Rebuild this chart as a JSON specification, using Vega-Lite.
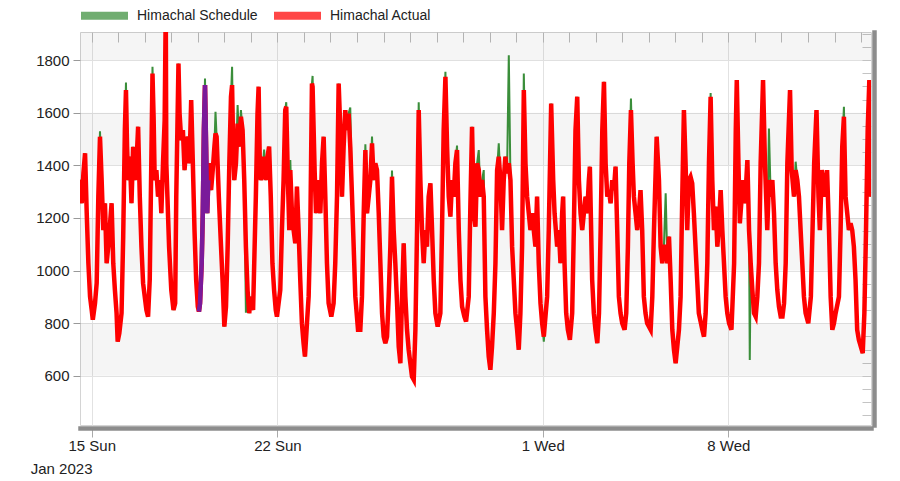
{
"$schema": "https://vega.github.io/schema/vega-lite/v6.json",
"width": 791, "height": 393,
"autosize": {"type": "none"},
"padding": {"left": 80, "top": 32, "right": 29, "bottom": 56},
"background": "white",
"config": {
  "font": "Liberation Sans",
  "view": {"stroke": "#d4d4d4", "strokeWidth": 1},
  "axis": {"labelFont": "Liberation Sans", "labelFontSize": 15, "labelColor": "#222", "titleFont": "Liberation Sans"},
  "legend": {"labelFont": "Liberation Sans"}
},
"data": {"values": [
{"t":"2023-01-14T13:30","a":1345,"s":1345},{"t":"2023-01-14T15:00","a":1256,"s":1256},{"t":"2023-01-14T16:30","a":1370,"s":1370},{"t":"2023-01-14T18:00","a":1446,"s":1446},{"t":"2023-01-14T19:30","a":1218,"s":1218},{"t":"2023-01-14T21:00","a":1028,"s":1028},{"t":"2023-01-14T22:30","a":901,"s":901},
{"t":"2023-01-15T00:00","a":850,"s":850},{"t":"2023-01-15T01:00","a":813,"s":813},{"t":"2023-01-15T03:00","a":876,"s":876},{"t":"2023-01-15T04:30","a":952,"s":952},{"t":"2023-01-15T06:00","a":1281,"s":1281},{"t":"2023-01-15T07:30","a":1509,"s":1530},{"t":"2023-01-15T09:00","a":1344,"s":1344},{"t":"2023-01-15T10:30","a":1154,"s":1154},{"t":"2023-01-15T12:00","a":1256,"s":1256},{"t":"2023-01-15T13:30","a":1028,"s":1028},{"t":"2023-01-15T15:00","a":1091,"s":1091},{"t":"2023-01-15T18:00","a":1256,"s":1256},{"t":"2023-01-15T19:30","a":1028,"s":1028},{"t":"2023-01-15T21:00","a":926,"s":926},{"t":"2023-01-15T22:30","a":838,"s":838},{"t":"2023-01-15T23:30","a":730,"s":730},
{"t":"2023-01-16T01:00","a":762,"s":762},{"t":"2023-01-16T03:00","a":838,"s":838},{"t":"2023-01-16T04:30","a":1129,"s":1129},{"t":"2023-01-16T06:00","a":1534,"s":1534},{"t":"2023-01-16T07:00","a":1686,"s":1715},{"t":"2023-01-16T08:00","a":1471,"s":1471},{"t":"2023-01-16T09:00","a":1344,"s":1344},{"t":"2023-01-16T10:30","a":1433,"s":1433},{"t":"2023-01-16T12:00","a":1256,"s":1256},{"t":"2023-01-16T13:30","a":1471,"s":1471},{"t":"2023-01-16T15:00","a":1344,"s":1344},{"t":"2023-01-16T16:30","a":1408,"s":1408},{"t":"2023-01-16T18:00","a":1547,"s":1547},{"t":"2023-01-16T19:30","a":1281,"s":1281},{"t":"2023-01-16T21:00","a":1091,"s":1091},{"t":"2023-01-16T22:30","a":952,"s":952},
{"t":"2023-01-17T00:00","a":901,"s":901},{"t":"2023-01-17T01:30","a":850,"s":850},{"t":"2023-01-17T03:00","a":825,"s":825},{"t":"2023-01-17T04:30","a":965,"s":965},{"t":"2023-01-17T05:30","a":1281,"s":1281},{"t":"2023-01-17T07:00","a":1749,"s":1775},{"t":"2023-01-17T08:00","a":1585,"s":1585},{"t":"2023-01-17T09:00","a":1344,"s":1344},{"t":"2023-01-17T10:30","a":1382,"s":1382},{"t":"2023-01-17T12:00","a":1281,"s":1281},{"t":"2023-01-17T13:30","a":1344,"s":1344},{"t":"2023-01-17T15:00","a":1218,"s":1218},{"t":"2023-01-17T16:30","a":1408,"s":1408},{"t":"2023-01-17T18:00","a":1572,"s":1572},{"t":"2023-01-17T19:00","a":2000,"s":1480},{"t":"2023-01-17T19:30","a":1408,"s":1408},{"t":"2023-01-17T20:30","a":1281,"s":1281},{"t":"2023-01-17T22:00","a":1091,"s":1091},
{"t":"2023-01-18T00:00","a":926,"s":926},{"t":"2023-01-18T02:00","a":850,"s":850},{"t":"2023-01-18T03:30","a":876,"s":876},{"t":"2023-01-18T04:30","a":1281,"s":1281},{"t":"2023-01-18T06:30","a":1787,"s":1787},{"t":"2023-01-18T07:30","a":1597,"s":1597},{"t":"2023-01-18T09:00","a":1496,"s":1496},{"t":"2023-01-18T10:30","a":1534,"s":1534},{"t":"2023-01-18T12:00","a":1382,"s":1382},{"t":"2023-01-18T13:30","a":1471,"s":1471},{"t":"2023-01-18T15:00","a":1509,"s":1509},{"t":"2023-01-18T16:30","a":1408,"s":1408},{"t":"2023-01-18T18:00","a":1648,"s":1648},{"t":"2023-01-18T19:30","a":1408,"s":1408},{"t":"2023-01-18T21:00","a":1154,"s":1154},{"t":"2023-01-18T22:30","a":965,"s":965},
{"t":"2023-01-19T00:00","a":863,"s":863},{"t":"2023-01-19T01:00","a":844,"s":844,"p":844},{"t":"2023-01-19T02:00","a":876,"s":876,"p":876},{"t":"2023-01-19T03:30","a":1028,"s":1028,"p":1028},{"t":"2023-01-19T04:30","a":1218,"s":1218,"p":1218},{"t":"2023-01-19T05:30","a":1534,"s":1534,"p":1534},{"t":"2023-01-19T06:30","a":1705,"s":1730,"p":1705},{"t":"2023-01-19T07:30","a":1471,"s":1471,"p":1471},{"t":"2023-01-19T08:30","a":1218,"s":1218,"p":1218},{"t":"2023-01-19T09:30","a":1344,"s":1344,"p":1344},{"t":"2023-01-19T10:30","a":1408,"s":1408},{"t":"2023-01-19T12:00","a":1306,"s":1306},{"t":"2023-01-19T13:30","a":1382,"s":1382},{"t":"2023-01-19T15:00","a":1471,"s":1471},{"t":"2023-01-19T16:00","a":1521,"s":1604},{"t":"2023-01-19T17:00","a":1509,"s":1509},{"t":"2023-01-19T19:00","a":1281,"s":1281},{"t":"2023-01-19T21:00","a":1091,"s":1091},{"t":"2023-01-19T22:30","a":952,"s":952},
{"t":"2023-01-20T00:00","a":787,"s":787},{"t":"2023-01-20T01:30","a":863,"s":863},{"t":"2023-01-20T03:00","a":1091,"s":1091},{"t":"2023-01-20T04:30","a":1408,"s":1408},{"t":"2023-01-20T06:00","a":1661,"s":1661},{"t":"2023-01-20T07:00","a":1705,"s":1775},{"t":"2023-01-20T08:00","a":1471,"s":1471},{"t":"2023-01-20T09:00","a":1344,"s":1344},{"t":"2023-01-20T10:30","a":1408,"s":1408},{"t":"2023-01-20T12:00","a":1559,"s":1629},{"t":"2023-01-20T13:30","a":1471,"s":1471},{"t":"2023-01-20T15:00","a":1585,"s":1610},{"t":"2023-01-20T16:30","a":1534,"s":1534},{"t":"2023-01-20T18:00","a":1344,"s":1344},{"t":"2023-01-20T19:30","a":1091,"s":840},{"t":"2023-01-20T21:00","a":926,"s":926},{"t":"2023-01-20T22:30","a":838,"s":838},
{"t":"2023-01-21T00:00","a":901,"s":901},{"t":"2023-01-21T02:00","a":850,"s":850},{"t":"2023-01-21T04:30","a":1281,"s":1281},{"t":"2023-01-21T06:00","a":1597,"s":1597},{"t":"2023-01-21T07:00","a":1699,"s":1699},{"t":"2023-01-21T08:00","a":1433,"s":1433},{"t":"2023-01-21T09:00","a":1344,"s":1344},{"t":"2023-01-21T10:30","a":1382,"s":1382},{"t":"2023-01-21T12:00","a":1433,"s":1460},{"t":"2023-01-21T13:30","a":1344,"s":1344},{"t":"2023-01-21T15:00","a":1433,"s":1433},{"t":"2023-01-21T16:30","a":1471,"s":1471},{"t":"2023-01-21T18:00","a":1281,"s":1281},{"t":"2023-01-21T19:30","a":1028,"s":1028},{"t":"2023-01-21T21:00","a":926,"s":926},{"t":"2023-01-21T22:30","a":850,"s":850},{"t":"2023-01-21T23:35","a":825,"s":825},
{"t":"2023-01-22T01:05","a":876,"s":876},{"t":"2023-01-22T02:35","a":926,"s":926},{"t":"2023-01-22T04:05","a":1154,"s":1154},{"t":"2023-01-22T05:35","a":1344,"s":1344},{"t":"2023-01-22T07:05","a":1610,"s":1610},{"t":"2023-01-22T08:00","a":1623,"s":1640},{"t":"2023-01-22T09:30","a":1344,"s":1344},{"t":"2023-01-22T10:45","a":1154,"s":1154},{"t":"2023-01-22T11:40","a":1382,"s":1420},{"t":"2023-01-22T13:10","a":1218,"s":1218},{"t":"2023-01-22T14:40","a":1154,"s":1154},{"t":"2023-01-22T16:10","a":1104,"s":1104},{"t":"2023-01-22T17:40","a":1319,"s":1319},{"t":"2023-01-22T19:10","a":1154,"s":1154},{"t":"2023-01-22T20:40","a":965,"s":965},{"t":"2023-01-22T22:10","a":800,"s":800},{"t":"2023-01-22T23:40","a":724,"s":724},
{"t":"2023-01-23T00:55","a":673,"s":673},{"t":"2023-01-23T02:45","a":800,"s":800},{"t":"2023-01-23T04:15","a":901,"s":901},{"t":"2023-01-23T05:45","a":1154,"s":1154},{"t":"2023-01-23T07:15","a":1711,"s":1711},{"t":"2023-01-23T07:50","a":1699,"s":1740},{"t":"2023-01-23T09:40","a":1382,"s":1382},{"t":"2023-01-23T10:55","a":1218,"s":1218},{"t":"2023-01-23T11:50","a":1344,"s":1344},{"t":"2023-01-23T13:20","a":1281,"s":1281},{"t":"2023-01-23T14:50","a":1218,"s":1218},{"t":"2023-01-23T16:20","a":1408,"s":1408},{"t":"2023-01-23T17:50","a":1509,"s":1509},{"t":"2023-01-23T19:20","a":1281,"s":1281},{"t":"2023-01-23T20:50","a":1028,"s":1028},{"t":"2023-01-23T22:20","a":876,"s":876},
{"t":"2023-01-24T00:45","a":825,"s":825},{"t":"2023-01-24T02:50","a":876,"s":876},{"t":"2023-01-24T04:20","a":1028,"s":1028},{"t":"2023-01-24T05:55","a":1281,"s":1281},{"t":"2023-01-24T07:25","a":1711,"s":1711},{"t":"2023-01-24T08:55","a":1534,"s":1534},{"t":"2023-01-24T10:25","a":1281,"s":1281},{"t":"2023-01-24T11:55","a":1471,"s":1471},{"t":"2023-01-24T13:25","a":1610,"s":1610},{"t":"2023-01-24T14:55","a":1534,"s":1534},{"t":"2023-01-24T16:25","a":1597,"s":1597},{"t":"2023-01-24T17:55","a":1471,"s":1620},{"t":"2023-01-24T19:30","a":1281,"s":1281},{"t":"2023-01-24T21:00","a":1091,"s":1091},{"t":"2023-01-24T22:30","a":901,"s":901},
{"t":"2023-01-25T00:55","a":775,"s":775},{"t":"2023-01-25T03:00","a":775,"s":775},{"t":"2023-01-25T04:30","a":901,"s":901},{"t":"2023-01-25T06:05","a":1218,"s":1218},{"t":"2023-01-25T07:35","a":1458,"s":1480},{"t":"2023-01-25T09:05","a":1218,"s":1218},{"t":"2023-01-25T10:35","a":1281,"s":1281},{"t":"2023-01-25T12:05","a":1344,"s":1344},{"t":"2023-01-25T13:35","a":1484,"s":1510},{"t":"2023-01-25T15:05","a":1344,"s":1344},{"t":"2023-01-25T16:35","a":1408,"s":1408},{"t":"2023-01-25T18:05","a":1382,"s":1382},{"t":"2023-01-25T19:40","a":1218,"s":1218},{"t":"2023-01-25T21:10","a":1028,"s":1028},{"t":"2023-01-25T22:40","a":838,"s":838},
{"t":"2023-01-26T00:10","a":749,"s":749},{"t":"2023-01-26T01:40","a":724,"s":724},{"t":"2023-01-26T03:10","a":749,"s":749},{"t":"2023-01-26T04:40","a":901,"s":901},{"t":"2023-01-26T06:10","a":1091,"s":1091},{"t":"2023-01-26T07:40","a":1357,"s":1380},{"t":"2023-01-26T09:10","a":1154,"s":1154},{"t":"2023-01-26T10:40","a":1028,"s":1028},{"t":"2023-01-26T12:15","a":876,"s":876},{"t":"2023-01-26T13:45","a":711,"s":700},{"t":"2023-01-26T15:15","a":648,"s":648},{"t":"2023-01-26T16:45","a":901,"s":901},{"t":"2023-01-26T18:15","a":1104,"s":1104},{"t":"2023-01-26T19:45","a":901,"s":901},{"t":"2023-01-26T21:15","a":775,"s":775},{"t":"2023-01-26T22:45","a":699,"s":699},
{"t":"2023-01-27T00:15","a":648,"s":648},{"t":"2023-01-27T01:45","a":597,"s":597},{"t":"2023-01-27T03:20","a":585,"s":585},{"t":"2023-01-27T04:50","a":775,"s":775},{"t":"2023-01-27T06:20","a":1154,"s":1154},{"t":"2023-01-27T07:50","a":1610,"s":1640},{"t":"2023-01-27T09:20","a":1344,"s":1344},{"t":"2023-01-27T10:50","a":1154,"s":1154},{"t":"2023-01-27T12:20","a":1028,"s":1028},{"t":"2023-01-27T13:50","a":1154,"s":1154},{"t":"2023-01-27T15:20","a":1091,"s":1091},{"t":"2023-01-27T16:50","a":1281,"s":1281},{"t":"2023-01-27T18:25","a":1332,"s":1332},{"t":"2023-01-27T19:55","a":1154,"s":1154},{"t":"2023-01-27T21:25","a":965,"s":965},{"t":"2023-01-27T22:55","a":838,"s":838},
{"t":"2023-01-28T01:00","a":787,"s":787},{"t":"2023-01-28T03:25","a":838,"s":838},{"t":"2023-01-28T04:55","a":1154,"s":1154},{"t":"2023-01-28T06:25","a":1534,"s":1534},{"t":"2023-01-28T08:00","a":1737,"s":1756},{"t":"2023-01-28T09:30","a":1471,"s":1471},{"t":"2023-01-28T11:00","a":1281,"s":1281},{"t":"2023-01-28T12:30","a":1205,"s":1205},{"t":"2023-01-28T14:00","a":1344,"s":1344},{"t":"2023-01-28T15:30","a":1281,"s":1281},{"t":"2023-01-28T17:00","a":1408,"s":1408},{"t":"2023-01-28T18:30","a":1458,"s":1475},{"t":"2023-01-28T20:05","a":1154,"s":1154},{"t":"2023-01-28T21:35","a":965,"s":965},{"t":"2023-01-28T23:05","a":863,"s":863},
{"t":"2023-01-29T01:10","a":825,"s":825},{"t":"2023-01-29T02:40","a":806,"s":806},{"t":"2023-01-29T05:05","a":901,"s":901},{"t":"2023-01-29T06:35","a":1250,"s":1250},{"t":"2023-01-29T08:05","a":1547,"s":1547},{"t":"2023-01-29T09:40","a":1218,"s":1218},{"t":"2023-01-29T11:10","a":1167,"s":1167},{"t":"2023-01-29T12:40","a":1408,"s":1408},{"t":"2023-01-29T14:10","a":1382,"s":1458},{"t":"2023-01-29T15:40","a":1281,"s":1281},{"t":"2023-01-29T17:10","a":1344,"s":1344},{"t":"2023-01-29T18:40","a":1281,"s":1382},{"t":"2023-01-29T20:10","a":901,"s":901},{"t":"2023-01-29T21:40","a":775,"s":775},{"t":"2023-01-29T23:10","a":673,"s":673},
{"t":"2023-01-30T00:40","a":623,"s":623},{"t":"2023-01-30T02:10","a":711,"s":711},{"t":"2023-01-30T03:45","a":838,"s":838},{"t":"2023-01-30T05:15","a":1028,"s":1028},{"t":"2023-01-30T06:45","a":1382,"s":1382},{"t":"2023-01-30T08:15","a":1433,"s":1484},{"t":"2023-01-30T09:45","a":1344,"s":1344},{"t":"2023-01-30T11:15","a":1154,"s":1154},{"t":"2023-01-30T12:45","a":1344,"s":1344},{"t":"2023-01-30T14:15","a":1433,"s":1433},{"t":"2023-01-30T15:45","a":1370,"s":1370},{"t":"2023-01-30T17:20","a":1408,"s":1819},{"t":"2023-01-30T18:50","a":1344,"s":1344},{"t":"2023-01-30T20:20","a":1091,"s":1091},{"t":"2023-01-30T21:50","a":965,"s":965},{"t":"2023-01-30T23:20","a":838,"s":838},
{"t":"2023-01-31T00:50","a":775,"s":775},{"t":"2023-01-31T02:20","a":699,"s":699},{"t":"2023-01-31T03:50","a":838,"s":838},{"t":"2023-01-31T05:20","a":1091,"s":1091},{"t":"2023-01-31T06:55","a":1686,"s":1749},{"t":"2023-01-31T08:25","a":1408,"s":1408},{"t":"2023-01-31T09:55","a":1281,"s":1281},{"t":"2023-01-31T11:25","a":1218,"s":1218},{"t":"2023-01-31T12:55","a":1154,"s":1154},{"t":"2023-01-31T14:25","a":1218,"s":1218},{"t":"2023-01-31T15:55","a":1154,"s":1154},{"t":"2023-01-31T17:25","a":1091,"s":1091},{"t":"2023-01-31T18:55","a":1281,"s":1281},{"t":"2023-01-31T20:25","a":1028,"s":1028},{"t":"2023-01-31T22:00","a":876,"s":876},{"t":"2023-01-31T23:30","a":800,"s":800},
{"t":"2023-02-01T01:00","a":749,"s":730},{"t":"2023-02-01T04:00","a":901,"s":901},{"t":"2023-02-01T05:30","a":1154,"s":1154},{"t":"2023-02-01T07:40","a":1635,"s":1635},{"t":"2023-02-01T09:30","a":1344,"s":1344},{"t":"2023-02-01T10:45","a":1218,"s":1218},{"t":"2023-02-01T11:55","a":1154,"s":1154},{"t":"2023-02-01T13:05","a":1091,"s":1091},{"t":"2023-02-01T14:35","a":1154,"s":1154},{"t":"2023-02-01T16:05","a":1028,"s":1028},{"t":"2023-02-01T17:35","a":1218,"s":1218},{"t":"2023-02-01T18:30","a":1281,"s":1281},{"t":"2023-02-01T19:45","a":1028,"s":1028},{"t":"2023-02-01T21:15","a":838,"s":838},{"t":"2023-02-01T22:45","a":775,"s":775},
{"t":"2023-02-02T00:36","a":737,"s":737},{"t":"2023-02-02T02:40","a":838,"s":838},{"t":"2023-02-02T04:10","a":1154,"s":1154},{"t":"2023-02-02T05:40","a":1534,"s":1534},{"t":"2023-02-02T07:15","a":1661,"s":1661},{"t":"2023-02-02T08:45","a":1344,"s":1344},{"t":"2023-02-02T10:15","a":1218,"s":1218},{"t":"2023-02-02T11:45","a":1154,"s":1154},{"t":"2023-02-02T13:15","a":1218,"s":1218},{"t":"2023-02-02T14:45","a":1281,"s":1281},{"t":"2023-02-02T16:15","a":1218,"s":1218},{"t":"2023-02-02T17:45","a":1344,"s":1344},{"t":"2023-02-02T18:40","a":1395,"s":1395},{"t":"2023-02-02T19:50","a":1154,"s":1154},{"t":"2023-02-02T20:45","a":965,"s":965},{"t":"2023-02-02T22:15","a":838,"s":838},{"t":"2023-02-02T23:45","a":775,"s":775},
{"t":"2023-02-03T01:25","a":724,"s":724},{"t":"2023-02-03T02:55","a":838,"s":838},{"t":"2023-02-03T04:25","a":1154,"s":1154},{"t":"2023-02-03T05:55","a":1534,"s":1534},{"t":"2023-02-03T07:25","a":1718,"s":1718},{"t":"2023-02-03T08:55","a":1408,"s":1408},{"t":"2023-02-03T10:25","a":1281,"s":1281},{"t":"2023-02-03T11:55","a":1306,"s":1306},{"t":"2023-02-03T13:25","a":1256,"s":1256},{"t":"2023-02-03T14:55","a":1344,"s":1344},{"t":"2023-02-03T16:25","a":1306,"s":1306},{"t":"2023-02-03T17:55","a":1395,"s":1395},{"t":"2023-02-03T19:25","a":1154,"s":1154},{"t":"2023-02-03T20:55","a":901,"s":901},{"t":"2023-02-03T22:25","a":838,"s":838},{"t":"2023-02-03T23:55","a":800,"s":800},
{"t":"2023-02-04T02:05","a":775,"s":775},{"t":"2023-02-04T03:35","a":838,"s":838},{"t":"2023-02-04T05:05","a":1091,"s":1091},{"t":"2023-02-04T06:20","a":1408,"s":1408},{"t":"2023-02-04T07:50","a":1610,"s":1654},{"t":"2023-02-04T09:20","a":1408,"s":1408},{"t":"2023-02-04T10:30","a":1281,"s":1281},{"t":"2023-02-04T12:00","a":1218,"s":1218},{"t":"2023-02-04T13:30","a":1154,"s":1154},{"t":"2023-02-04T15:00","a":1218,"s":1218},{"t":"2023-02-04T16:30","a":1306,"s":1306},{"t":"2023-02-04T18:00","a":1154,"s":1154},{"t":"2023-02-04T19:30","a":901,"s":901},{"t":"2023-02-04T21:00","a":838,"s":838},{"t":"2023-02-04T22:30","a":800,"s":800},
{"t":"2023-02-05T01:40","a":775,"s":775},{"t":"2023-02-05T03:10","a":901,"s":901},{"t":"2023-02-05T04:40","a":1154,"s":1154},{"t":"2023-02-05T07:05","a":1509,"s":1509},{"t":"2023-02-05T09:10","a":1344,"s":1344},{"t":"2023-02-05T10:40","a":1091,"s":1091},{"t":"2023-02-05T12:10","a":1028,"s":1028},{"t":"2023-02-05T13:40","a":1091,"s":1091},{"t":"2023-02-05T15:15","a":1091,"s":1294},{"t":"2023-02-05T16:45","a":1028,"s":1028},{"t":"2023-02-05T18:15","a":1129,"s":1129},{"t":"2023-02-05T19:45","a":965,"s":965},{"t":"2023-02-05T21:15","a":775,"s":775},{"t":"2023-02-05T22:45","a":699,"s":699},
{"t":"2023-02-06T00:15","a":648,"s":648},{"t":"2023-02-06T01:45","a":711,"s":711},{"t":"2023-02-06T03:15","a":775,"s":775},{"t":"2023-02-06T04:45","a":901,"s":901},{"t":"2023-02-06T06:15","a":1281,"s":1281},{"t":"2023-02-06T07:45","a":1610,"s":1610},{"t":"2023-02-06T09:15","a":1408,"s":1408},{"t":"2023-02-06T10:45","a":1154,"s":1154},{"t":"2023-02-06T12:15","a":1344,"s":1344},{"t":"2023-02-06T13:45","a":1357,"s":1357},{"t":"2023-02-06T15:15","a":1332,"s":1332},{"t":"2023-02-06T16:45","a":1218,"s":1218},{"t":"2023-02-06T18:15","a":1091,"s":1091},{"t":"2023-02-06T19:45","a":965,"s":965},{"t":"2023-02-06T21:15","a":838,"s":838},
{"t":"2023-02-07T00:25","a":775,"s":775},{"t":"2023-02-07T01:55","a":749,"s":749},{"t":"2023-02-07T03:25","a":838,"s":838},{"t":"2023-02-07T04:55","a":1028,"s":1028},{"t":"2023-02-07T06:25","a":1408,"s":1408},{"t":"2023-02-07T07:55","a":1661,"s":1675},{"t":"2023-02-07T09:25","a":1344,"s":1344},{"t":"2023-02-07T10:55","a":1154,"s":1154},{"t":"2023-02-07T12:30","a":1243,"s":1243},{"t":"2023-02-07T14:00","a":1091,"s":1091},{"t":"2023-02-07T15:30","a":1180,"s":1180},{"t":"2023-02-07T17:00","a":1306,"s":1306},{"t":"2023-02-07T18:30","a":1154,"s":1154},{"t":"2023-02-07T20:00","a":1028,"s":1028},{"t":"2023-02-07T21:30","a":901,"s":901},{"t":"2023-02-07T23:00","a":838,"s":838},
{"t":"2023-02-08T00:36","a":800,"s":800},{"t":"2023-02-08T02:45","a":775,"s":775},{"t":"2023-02-08T05:10","a":1028,"s":1028},{"t":"2023-02-08T06:40","a":1534,"s":1534},{"t":"2023-02-08T07:35","a":1724,"s":1724},{"t":"2023-02-08T09:05","a":1408,"s":1408},{"t":"2023-02-08T10:20","a":1180,"s":1180},{"t":"2023-02-08T12:05","a":1281,"s":1281},{"t":"2023-02-08T13:20","a":1344,"s":1344},{"t":"2023-02-08T15:05","a":1256,"s":1256},{"t":"2023-02-08T17:10","a":1420,"s":1420},{"t":"2023-02-08T18:40","a":1154,"s":1154},{"t":"2023-02-08T19:20","a":1100,"s":660},{"t":"2023-02-08T20:10","a":1028,"s":1028},{"t":"2023-02-08T21:40","a":926,"s":926},{"t":"2023-02-08T23:10","a":838,"s":838},
{"t":"2023-02-09T00:40","a":825,"s":825},{"t":"2023-02-09T02:10","a":901,"s":901},{"t":"2023-02-09T03:40","a":1028,"s":1028},{"t":"2023-02-09T05:10","a":1408,"s":1408},{"t":"2023-02-09T07:20","a":1724,"s":1724},{"t":"2023-02-09T09:05","a":1408,"s":1408},{"t":"2023-02-09T11:10","a":1154,"s":1154},{"t":"2023-02-09T12:40","a":1344,"s":1540},{"t":"2023-02-09T14:15","a":1281,"s":1281},{"t":"2023-02-09T15:45","a":1344,"s":1344},{"t":"2023-02-09T17:15","a":1218,"s":1218},{"t":"2023-02-09T18:45","a":1028,"s":1028},{"t":"2023-02-09T20:15","a":926,"s":926},{"t":"2023-02-09T21:45","a":863,"s":863},{"t":"2023-02-09T23:20","a":825,"s":825},
{"t":"2023-02-10T00:54","a":825,"s":825},{"t":"2023-02-10T02:20","a":876,"s":876},{"t":"2023-02-10T03:50","a":1028,"s":1028},{"t":"2023-02-10T05:20","a":1408,"s":1408},{"t":"2023-02-10T07:45","a":1686,"s":1686},{"t":"2023-02-10T09:15","a":1382,"s":1382},{"t":"2023-02-10T11:20","a":1281,"s":1281},{"t":"2023-02-10T12:50","a":1382,"s":1414},{"t":"2023-02-10T14:20","a":1344,"s":1344},{"t":"2023-02-10T15:50","a":1281,"s":1281},{"t":"2023-02-10T17:20","a":1154,"s":1154},{"t":"2023-02-10T18:50","a":1028,"s":1028},{"t":"2023-02-10T20:20","a":901,"s":901},{"t":"2023-02-10T21:50","a":838,"s":838},
{"t":"2023-02-11T00:15","a":800,"s":800},{"t":"2023-02-11T02:36","a":901,"s":901},{"t":"2023-02-11T04:06","a":1154,"s":1154},{"t":"2023-02-11T05:35","a":1408,"s":1408},{"t":"2023-02-11T07:42","a":1610,"s":1610},{"t":"2023-02-11T09:30","a":1281,"s":1281},{"t":"2023-02-11T10:45","a":1154,"s":1154},{"t":"2023-02-11T12:30","a":1382,"s":1382},{"t":"2023-02-11T13:45","a":1344,"s":1344},{"t":"2023-02-11T15:30","a":1281,"s":1281},{"t":"2023-02-11T17:15","a":1382,"s":1382},{"t":"2023-02-11T19:00","a":1154,"s":1154},{"t":"2023-02-11T20:30","a":901,"s":901},{"t":"2023-02-11T22:00","a":775,"s":775},{"t":"2023-02-11T23:30","a":800,"s":800},
{"t":"2023-02-12T01:00","a":838,"s":838},{"t":"2023-02-12T04:00","a":901,"s":901},{"t":"2023-02-12T05:30","a":1154,"s":1154},{"t":"2023-02-12T07:00","a":1471,"s":1471},{"t":"2023-02-12T08:30","a":1585,"s":1623},{"t":"2023-02-12T10:00","a":1281,"s":1281},{"t":"2023-02-12T11:30","a":1218,"s":1218},{"t":"2023-02-12T13:00","a":1154,"s":1154},{"t":"2023-02-12T14:30","a":1180,"s":1180},{"t":"2023-02-12T16:00","a":1154,"s":1154},{"t":"2023-02-12T17:30","a":1091,"s":1091},{"t":"2023-02-12T19:00","a":965,"s":965},{"t":"2023-02-12T20:30","a":775,"s":775},{"t":"2023-02-12T22:00","a":737,"s":737},
{"t":"2023-02-13T01:30","a":686,"s":686},{"t":"2023-02-13T03:00","a":838,"s":838},{"t":"2023-02-13T04:30","a":1154,"s":1154},{"t":"2023-02-13T06:00","a":1534,"s":1534},{"t":"2023-02-13T07:30","a":1724,"s":1724},{"t":"2023-02-13T08:40","a":1281,"s":1281}
]},
"layer": [
  {
    "data": {"values": [{"lo":1800,"hi":1907},{"lo":1400,"hi":1600},{"lo":1000,"hi":1200},{"lo":600,"hi":800}]},
    "mark": {"type": "rect", "fill": "#000000", "opacity": 0.04},
    "encoding": {
      "y": {"field": "lo", "type": "quantitative",
        "scale": {"domain": [413, 1907], "nice": false, "zero": false},
        "axis": {"values": [600,800,1000,1200,1400,1600,1800], "format": "d", "title": null, "tickSize": 7, "tickColor": "#999999", "labelPadding": 4, "domain": false, "grid": true, "gridColor": "#e2e2e2", "labelFontSize": 15, "labelColor": "#222222"}},
      "y2": {"field": "hi"}
    }
  },
  {
    "mark": {"type": "line", "strokeWidth": 2, "clip": true},
    "encoding": {
      "x": {"field": "t", "type": "temporal",
        "scale": {"domain": [{"year":2023,"month":"jan","date":14,"hours":13,"minutes":25},{"year":2023,"month":"feb","date":13,"hours":9,"minutes":0}]},
        "axis": {"values": [{"year":2023,"month":"jan","date":15},{"year":2023,"month":"jan","date":22},{"year":2023,"month":"feb","date":1},{"year":2023,"month":"feb","date":8}],
          "labelExpr": "timeFormat(datum.value, '%-d %a')", "labelAngle": 0, "labelFlush": false, "labelOverlap": false,
          "title": "Jan 2023", "titleX": 12, "titleY": 45, "titleAlign": "right", "titleBaseline": "alphabetic", "titleFontSize": 15, "titleFontWeight": "normal", "titleColor": "#222222",
          "tickSize": 9, "tickColor": "#aaaaaa", "labelPadding": 1, "labelFontSize": 15, "labelColor": "#222222",
          "domain": true, "domainColor": "#8c8c8c", "domainWidth": 4.5, "domainCap": "square", "offset": 3,
          "grid": true, "gridColor": "#e2e2e2"}},
      "y": {"field": "s", "type": "quantitative",
        "scale": {"domain": [413, 1907], "nice": false, "zero": false},
        "axis": {"values": [450,500,550,600,650,700,750,800,850,900,950,1000,1050,1100,1150,1200,1250,1300,1350,1400,1450,1500,1550,1600,1650,1700,1750,1800,1850,1900], "labels": false, "domain": false, "grid": false, "tickSize": -9, "tickColor": "#c4c4c4", "title": null}},
      "color": {"datum": "Himachal Schedule",
        "scale": {"domain": ["Himachal Schedule", "Himachal Actual"], "range": ["#3a8e3a", "#ff0000"]},
        "legend": {"orient": "none", "legendX": -3, "legendY": -44, "direction": "horizontal", "title": null,
          "symbolType": "M-1,0H1", "symbolSize": 2209, "symbolStrokeWidth": 8, "symbolOpacity": 0.72,
          "labelFontSize": 14, "labelColor": "#222222", "labelOffset": 5, "columnPadding": 0, "padding": 0,
          "encode": {"symbols": {"update": {"strokeWidth": {"value": 8}, "opacity": {"value": 0.72}}}}}}
    }
  },
  {
    "mark": {"type": "line", "strokeWidth": 4.5, "clip": true},
    "encoding": {
      "x": {"field": "t", "type": "temporal",
        "axis": {"tickCount": {"interval": "day", "step": 1}, "labels": false, "domain": false, "grid": false, "tickSize": -10, "tickColor": "#bbbbbb", "title": null}},
      "y": {"field": "a", "type": "quantitative",
        "axis": {"orient": "right", "labels": false, "ticks": false, "grid": false, "domain": true, "domainColor": "#8c8c8c", "domainWidth": 4.5, "domainCap": "square", "offset": 3, "title": null}},
      "color": {"datum": "Himachal Actual"}
    }
  },
  {
    "mark": {"type": "line", "strokeWidth": 4.5, "clip": true, "color": "#7a1a9a"},
    "encoding": {
      "x": {"field": "t", "type": "temporal", "axis": null},
      "y": {"field": "p", "type": "quantitative", "axis": null}
    }
  }
],
"resolve": {"axis": {"x": "independent", "y": "independent"}}
}
